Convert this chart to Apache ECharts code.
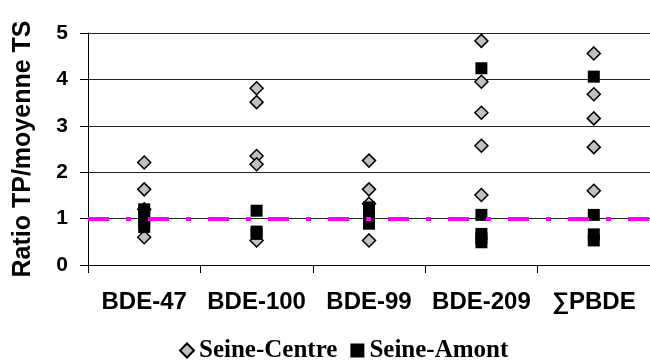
<!DOCTYPE html>
<html>
<head>
<meta charset="utf-8">
<script src="https://cdn.jsdelivr.net/npm/echarts@6/dist/echarts.min.js"></script>
<style>
html,body{margin:0;padding:0;background:#fff;}
#chart{width:650px;height:361px;}
</style>
</head>
<body>
<div id="chart"></div>
<script>
var categories = ['BDE-47', 'BDE-100', 'BDE-99', 'BDE-209', '\u2211PBDE'];
var seineCentre = [
  [2.21, 1.63, 1.20, 0.60],
  [3.81, 3.51, 2.35, 2.17, 0.53],
  [2.25, 1.63, 1.32, 0.53],
  [4.83, 3.95, 3.28, 2.57, 1.51],
  [4.56, 3.68, 3.16, 2.54, 1.60]
];
var seineAmont = [
  [1.20, 1.05, 0.92, 0.82],
  [1.17, 0.72, 0.67],
  [1.24, 1.10, 1.00, 0.89],
  [4.24, 1.08, 0.67, 0.58, 0.49],
  [4.06, 1.08, 0.66, 0.53]
];
var refLine = 1;
var yTicks = { min: 0, max: 5, interval: 1 };
var yTitle = 'Ratio TP/moyenne TS';
var seriesNames = ['Seine-Centre', 'Seine-Amont'];

function toPoints(groups) {
  var out = [];
  groups.forEach(function (vals, i) {
    vals.forEach(function (v) { out.push([categories[i], v]); });
  });
  return out;
}

var chart = echarts.init(document.getElementById('chart'), null, { renderer: 'canvas' });
chart.setOption({
  animation: false,
  backgroundColor: '#fff',
  grid: { left: 88, top: 33, width: 569, height: 232, containLabel: false },
  legend: {
    left: 174, top: 333,
    itemWidth: 14, itemHeight: 14, itemGap: 13,
    textStyle: { fontFamily: 'Liberation Serif', fontWeight: 'bold', fontSize: 25, color: '#000' },
    data: [
      { name: seriesNames[0], icon: 'diamond' },
      { name: seriesNames[1], icon: 'rect' }
    ]
  },
  xAxis: {
    type: 'category',
    data: categories,
    boundaryGap: true,
    axisLine: { show: true, lineStyle: { color: '#000', width: 1 } },
    axisTick: { show: true, length: 8, interval: 0, lineStyle: { color: '#000' } },
    axisLabel: { interval: 0, margin: 25, fontFamily: 'Liberation Sans', fontWeight: 'bold', fontSize: 24, color: '#000' },
    splitLine: { show: false }
  },
  yAxis: {
    type: 'value',
    min: yTicks.min, max: yTicks.max, interval: yTicks.interval,
    name: yTitle,
    nameLocation: 'middle',
    nameGap: 52,
    nameTextStyle: { fontFamily: 'Liberation Sans', fontWeight: 'bold', fontSize: 25, color: '#000' },
    axisLine: { show: true, lineStyle: { color: '#000', width: 1 } },
    axisTick: { show: true, length: 8, lineStyle: { color: '#000' } },
    axisLabel: { margin: 20, fontFamily: 'Liberation Sans', fontWeight: 'bold', fontSize: 21, color: '#000' },
    splitLine: { show: true, lineStyle: { color: '#222', width: 1 } }
  },
  series: [
    {
      name: seriesNames[0],
      type: 'scatter',
      symbol: 'diamond',
      symbolSize: [13, 13],
      itemStyle: { color: '#C0C0C0', borderColor: '#000', borderWidth: 1.5, opacity: 1 },
      data: toPoints(seineCentre),
      z: 2
    },
    {
      name: seriesNames[1],
      type: 'scatter',
      symbol: 'rect',
      symbolSize: 12,
      itemStyle: { color: '#000', borderColor: '#000', borderWidth: 0, opacity: 1 },
      data: toPoints(seineAmont),
      z: 3
    },
    {
      name: 'ref',
      type: 'scatter',
      data: [],
      z: 5,
      silent: true,
      markLine: {
        silent: true,
        symbol: ['none', 'none'],
        label: { show: false },
        lineStyle: { color: '#FF00FF', width: 4, type: [21, 17, 5, 17], opacity: 1 },
        data: [{ yAxis: refLine }],
        z: 5
      }
    }
  ]
});
</script>
</body>
</html>
